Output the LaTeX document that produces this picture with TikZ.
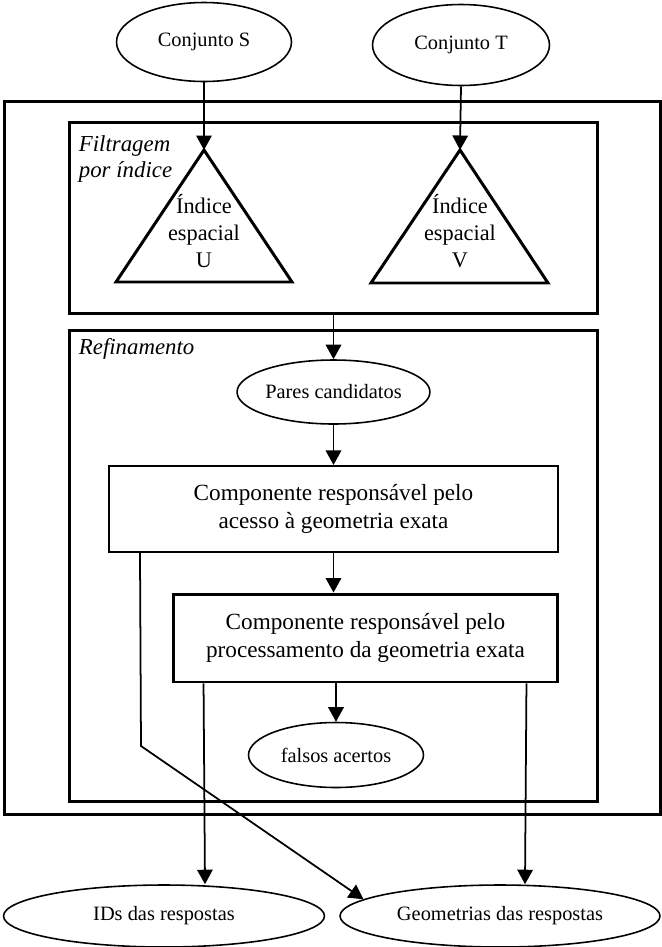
\documentclass[tikz,border=0pt]{standalone}
\usepackage{fontspec}
\setmainfont{Liberation Serif}
\usetikzlibrary{arrows.meta,calc,shapes.geometric,positioning}
\newcommand{\ellfont}{\fontsize{11.6}{14}\selectfont}
\newcommand{\cardfont}{\fontsize{13.2}{16}\selectfont}
\newcommand{\trifont}{\fontsize{12.7}{15.3}\selectfont}
\newcommand{\stagefont}{\fontsize{13}{14.5}\selectfont\itshape}
\tikzset{
  flowarr/.style={-{Triangle[length=2.9mm,width=3.1mm]},line width=1pt},
  setnode/.style={ellipse,draw,line width=0.9pt,inner sep=0pt,font=\ellfont},
  framebox/.style={draw,line width=1.7pt,inner sep=0pt},
  compbox/.style={draw,align=center,inner sep=0pt,font=\cardfont},
  trishape/.style={draw,line width=1.7pt,line join=miter},
  tritext/.style={align=center,inner sep=0pt,font=\trifont},
  stagelabel/.style={font=\stagefont,align=left,anchor=north west,inner sep=0pt}
}

\begin{document}
\begin{tikzpicture}[x=0.02cm,y=-0.02cm]
  \useasboundingbox (0,0) rectangle (662,947);

  % frames
  \node[framebox,minimum width=13.14cm,minimum height=14.28cm] (sistema) at (332.5,458) {};
  \node[framebox,minimum width=10.58cm,minimum height=3.84cm] (filtro) at (333.5,218) {};
  \node[framebox,minimum width=10.58cm,minimum height=9.44cm] (refino) at (333.5,566) {};
  \node[stagelabel] (filtlbl) at ([xshift=0.22cm,yshift=-0.3cm]filtro.north west) {Filtragem\\por índice};
  \node[stagelabel] (reflbl) at ([xshift=0.22cm,yshift=-0.2cm]refino.north west) {Refinamento};

  % input sets
  \node[setnode,minimum width=3.5cm,minimum height=1.58cm] (s) at (204,42) {Conjunto S};
  \node[setnode,minimum width=3.54cm,minimum height=1.62cm] (t) at (461,45) {Conjunto T};

  % spatial indexes
  \draw[trishape] (116,282) -- (204,150) -- (292,282) -- cycle;
  \draw[trishape] (371,283) -- (460,150) -- (548,283) -- cycle;
  \coordinate (uapex) at (204,150);
  \coordinate (vapex) at (460,150);
  \node[tritext] (utxt) at (204,231) {Índice\\espacial\\U};
  \node[tritext] (vtxt) at (460,231) {Índice\\espacial\\V};
  \draw[flowarr] (s.south) -- (uapex);
  \draw[flowarr] (t.south) -- (vapex);

  % refinement
  \node[setnode,minimum width=3.54cm,minimum height=1.28cm] (pares) at (333.5,392) {Pares candidatos};
  \node[compbox,line width=1.2pt,minimum width=8.98cm,minimum height=1.72cm] (comp1) at (333.5,509)
    {Componente responsável pelo\\acesso à geometria exata};
  \node[compbox,line width=1.7pt,minimum width=7.7cm,minimum height=1.76cm] (comp2) at (365.5,638)
    {Componente responsável pelo\\processamento da geometria exata};
  \node[setnode,minimum width=3.5cm,minimum height=1.3cm] (falsos) at (336,755) {falsos acertos};
  \draw[flowarr] (filtro.south) -- (pares.north);
  \draw[flowarr] (pares.south) -- (comp1.north);
  \draw[flowarr] (comp1.south) -- (comp1.south |- comp2.north);
  \draw[flowarr] (comp2.south -| falsos.north) -- (falsos.north);

  % results
  \node[setnode,minimum width=6.42cm,minimum height=1.24cm] (ids) at (164,916) {IDs das respostas};
  \node[setnode,minimum width=6.4cm,minimum height=1.24cm] (geo) at (500,916) {Geometrias das respostas};
  \coordinate (knee) at (141,746);
  \draw[flowarr] ([xshift=0.64cm]comp2.south west) -- ([xshift=0.82cm]ids.north);
  \draw[flowarr] ([xshift=-0.66cm]comp2.south east) -- ([xshift=0.5cm]geo.north);
  \draw[flowarr] ([xshift=0.64cm]comp1.south west) -- (knee) -- (geo.173);
\end{tikzpicture}
\end{document}
